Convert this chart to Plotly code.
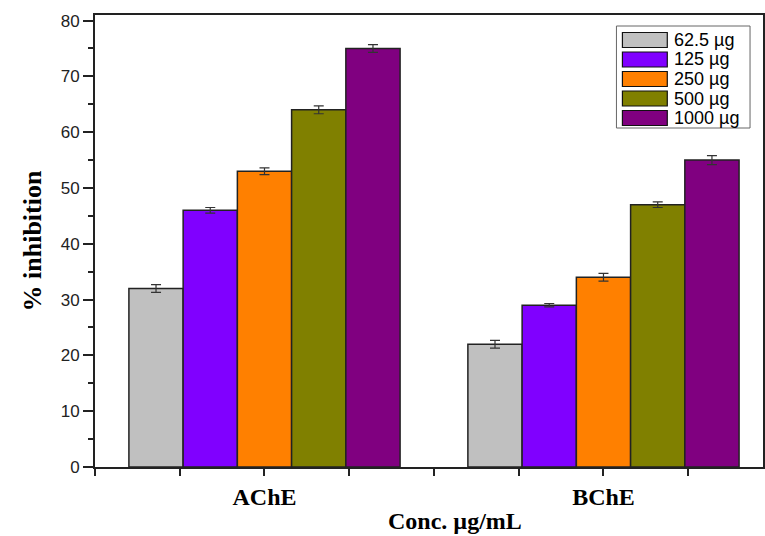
import plotly.graph_objects as go

# Enzyme groups placed at numeric positions on the x axis
groups = ["AChE", "BChE"]
group_pos = [1, 2]

# Extract concentrations and their inhibition values (%)
series_names = ["62.5 µg", "125 µg", "250 µg", "500 µg", "1000 µg"]
series_colors = ["#C0C0C0", "#8000FF", "#FF8000", "#808000", "#800080"]
inhibition = [
    [32, 22],
    [46, 29],
    [53, 34],
    [64, 47],
    [75, 55],
]
inhibition_err = [
    [0.7, 0.7],
    [0.5, 0.3],
    [0.6, 0.7],
    [0.7, 0.5],
    [0.7, 0.8],
]

# Axis ticks
y_ticks = [0, 10, 20, 30, 40, 50, 60, 70, 80]
x_tick_vals = [0.5, 0.75, 1.0, 1.25, 1.5, 1.75, 2.0, 2.25]
x_tick_text = ["", "", "AChE", "", "", "", "BChE", ""]

W, H = 765, 536
M_L, M_R, M_T, M_B = 95, 0, 15, 69

fig = go.Figure()
for name, color, vals, errs in zip(series_names, series_colors, inhibition, inhibition_err):
    fig.add_trace(go.Bar(
        x=group_pos, y=vals, name=name,
        marker=dict(color=color, line=dict(color="#222222", width=1.5)),
        error_y=dict(type="data", array=errs, visible=True,
                     color="#333333", thickness=1.2, width=5),
        showlegend=False,
    ))

serif = "Liberation Serif"
sans = "Liberation Sans"

fig.update_layout(
    width=W, height=H,
    margin=dict(l=M_L, r=M_R, t=M_T, b=M_B),
    paper_bgcolor="white", plot_bgcolor="white",
    barmode="group", bargap=0.2, bargroupgap=0,
    xaxis=dict(
        range=[0.5, 0.5 + (W - M_L - M_R) / 340.0],
        tickmode="array", tickvals=x_tick_vals, ticktext=x_tick_text,
        ticks="outside", ticklen=7, tickwidth=1.5, tickcolor="#222222",
        showline=True, linecolor="#222222", linewidth=2, mirror=True,
        showgrid=False, zeroline=False,
        tickfont=dict(family=serif, size=24, color="black", weight="bold"),
    ),
    yaxis=dict(
        range=[0, 81],
        tickmode="array", tickvals=y_ticks,
        ticks="outside", ticklen=10, tickwidth=1.5, tickcolor="#222222",
        minor=dict(tickmode="array", tickvals=[5, 15, 25, 35, 45, 55, 65, 75],
                   ticks="outside", ticklen=5, tickwidth=1.5, tickcolor="#222222"),
        showline=True, linecolor="#222222", linewidth=2, mirror=True,
        showgrid=False, zeroline=False,
        tickfont=dict(family=sans, size=17, color="#222222"),
        title=dict(text="% inhibition", standoff=12,
                   font=dict(family=serif, size=26, color="black", weight="bold")),
    ),
)

# Pixel helpers for placing items relative to the plot area
plot_w = W - M_L - M_R
plot_h = H - M_T - M_B


def px_x(px):
    return (px - M_L) / plot_w


def px_y(py):
    return (H - M_B - py) / plot_h


# x-axis title
fig.add_annotation(xref="paper", yref="paper", x=px_x(456), y=px_y(521),
                   text="Conc. µg/mL", showarrow=False,
                   xanchor="center", yanchor="middle",
                   font=dict(family=serif, size=24, color="black", weight="bold"))

# Legend drawn as a framed box with wide swatches
fig.add_shape(type="rect", xref="paper", yref="paper",
              x0=px_x(618), x1=px_x(752), y0=px_y(128), y1=px_y(26),
              line=dict(color="#666666", width=1), fillcolor="white", layer="above")
row_y0, row_step = 40, 19.5
for i, (name, color) in enumerate(zip(series_names, series_colors)):
    cy = row_y0 + i * row_step
    fig.add_shape(type="rect", xref="paper", yref="paper",
                  x0=px_x(624), x1=px_x(669), y0=px_y(cy + 7.5), y1=px_y(cy - 7.5),
                  line=dict(color="#111111", width=1.2), fillcolor=color, layer="above")
    fig.add_annotation(xref="paper", yref="paper", x=px_x(674), y=px_y(cy),
                       text=name, showarrow=False, xanchor="left", yanchor="middle",
                       font=dict(family=sans, size=18, color="black"))

fig.write_html("out.html")
